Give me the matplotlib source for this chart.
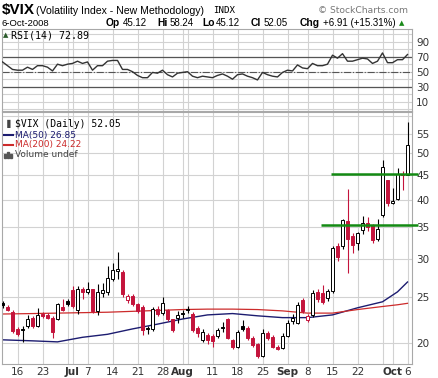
import numpy as np
import pandas as pd
import matplotlib
matplotlib.use("Agg")
import matplotlib.pyplot as plt
import matplotlib.ticker as mticker
from matplotlib.patches import Rectangle

# ---- data (VIX daily, Jun 11 - Oct 6 2008) ----
days = pd.bdate_range("2008-06-11", "2008-10-06", freq="C",
                      holidays=["2008-07-04", "2008-09-01"])

opens = [24.2, 23.8, 23.2, 21.4, 21.35, 21.7, 22.6, 21.7, 23.0, 22.9, 22.6, 22.4, 23.8, 24.5,
         25.8, 23.5, 26.0, 25.6, 25.9, 23.3, 25.4, 25.6, 27.2, 28.3, 28.2, 24.6, 25.1, 24.1,
         23.8, 21.5, 21.4, 23.6, 23.1, 23.4, 22.4, 22.6, 23.1, 23.6, 23.0, 21.5, 20.3, 20.8,
         20.7, 20.7, 21.6, 22.4, 20.3, 19.6, 21.7, 21.5, 20.5, 19.9, 18.8, 21.0, 20.6, 19.6,
         19.5, 20.7, 22.2, 22.0, 24.6, 22.3, 22.9, 25.6, 25.5, 24.9, 25.7, 32.0, 31.9, 36.1,
         33.5, 32.4, 34.5, 35.7, 35.3, 33.0, 37.1, 43.9, 39.4, 40.1, 45.3, 45.12]
highs = [24.5, 24.0, 23.4, 21.6, 21.7, 22.9, 22.8, 23.7, 23.2, 23.1, 22.8, 24.3, 24.7, 24.7,
         26.3, 26.3, 26.2, 26.8, 26.0, 26.6, 26.7, 29.0, 29.5, 31.1, 28.4, 25.3, 25.3, 24.3,
         24.0, 21.7, 23.8, 23.9, 25.0, 23.6, 22.5, 23.3, 23.4, 23.9, 23.2, 21.7, 21.4, 21.0,
         20.9, 21.5, 22.1, 22.6, 20.4, 21.3, 22.3, 21.7, 20.7, 20.0, 21.4, 21.2, 20.8, 19.8,
         21.0, 22.3, 23.0, 24.4, 24.9, 23.0, 25.8, 26.0, 26.5, 26.0, 31.9, 32.5, 36.5, 42.2,
         34.0, 34.2, 36.9, 36.7, 35.6, 36.4, 48.4, 44.0, 42.4, 46.5, 46.0, 58.24]
lows = [23.7, 23.3, 21.0, 20.7, 20.1, 21.5, 21.5, 21.6, 22.6, 22.4, 20.5, 22.3, 23.3, 23.9,
        23.7, 23.0, 24.7, 25.3, 23.1, 22.9, 25.0, 25.2, 27.0, 27.3, 25.0, 24.3, 23.9, 23.1,
        20.8, 20.9, 21.2, 22.8, 22.9, 22.2, 21.1, 22.0, 22.6, 23.1, 21.1, 20.6, 20.1, 19.9,
        19.6, 20.5, 21.1, 20.4, 19.4, 19.5, 21.2, 20.3, 19.6, 18.6, 18.7, 20.3, 19.5, 19.3,
        19.4, 20.6, 21.9, 21.9, 23.1, 22.1, 22.7, 24.4, 24.1, 24.5, 25.5, 29.7, 31.5, 28.0,
        30.9, 31.3, 33.8, 34.4, 32.5, 32.7, 36.8, 38.7, 39.2, 39.9, 41.8, 45.12]
closes = [24.0, 23.5, 21.2, 20.9, 21.25, 22.4, 21.7, 22.9, 22.8, 22.6, 21.1, 24.1, 23.5, 24.1,
          23.9, 26.0, 25.6, 25.9, 23.3, 25.6, 25.8, 27.4, 28.4, 28.6, 25.3, 25.1, 24.1, 23.3,
          21.3, 21.35, 23.6, 23.0, 24.3, 22.4, 21.3, 22.9, 23.0, 23.5, 21.3, 21.0, 21.1, 20.3,
          20.2, 21.3, 21.5, 20.5, 19.6, 21.1, 21.4, 20.5, 19.8, 18.8, 21.0, 20.5, 19.6, 19.4,
          20.7, 21.99, 22.6, 24.03, 23.3, 22.8, 25.47, 24.79, 24.39, 25.66, 31.70, 30.30, 36.22, 33.10,
          32.07, 33.96, 35.72, 35.01, 32.82, 34.74, 46.72, 39.39, 39.81, 45.26, 45.14, 52.05]

rsi = [63, 58, 53, 52, 52, 56, 53, 58, 58, 56, 51, 60, 58, 60, 61, 64, 61, 63, 52, 58, 58,
       64, 65, 65, 53, 53, 50, 45, 42, 42, 49, 48, 52, 46, 43, 48, 49, 50, 44, 42, 44, 43,
       42, 45, 47, 44, 40, 46, 47, 44, 42, 39, 49, 46, 44, 43, 49, 52, 51, 59, 55, 54, 61,
       58, 58, 60, 72, 68, 74, 64, 64, 66, 68, 67, 61, 64, 75, 62, 62, 66, 66, 72.89]

ma_dates = ["2008-06-11", "2008-06-19", "2008-06-26", "2008-07-03", "2008-07-11", "2008-07-18",
            "2008-07-25", "2008-08-01", "2008-08-08", "2008-08-15", "2008-08-22", "2008-08-29",
            "2008-09-08", "2008-09-15", "2008-09-22", "2008-09-29", "2008-10-02", "2008-10-06"]
ma50 = [20.3, 20.2, 20.1, 20.55, 20.85, 21.4, 21.9, 22.45, 22.9, 23.05, 22.8, 22.6,
        22.6, 22.9, 23.7, 24.4, 25.6, 26.85]
ma200 = [23.0, 23.05, 23.1, 23.15, 23.2, 23.3, 23.4, 23.5, 23.55, 23.55, 23.5, 23.35,
         23.1, 23.1, 23.5, 23.85, 24.05, 24.22]

tick_dates = ["2008-06-16", "2008-06-23", "2008-07-01", "2008-07-07", "2008-07-14", "2008-07-21",
              "2008-07-28", "2008-08-01", "2008-08-11", "2008-08-18", "2008-08-25", "2008-09-02",
              "2008-09-08", "2008-09-15", "2008-09-22", "2008-10-01", "2008-10-06"]
tick_labels = ["16", "23", "Jul", "7", "14", "21", "28", "Aug", "11", "18", "25", "Sep",
               "8", "15", "22", "Oct", "6"]
extra_grid_dates = ["2008-06-30", "2008-08-04", "2008-09-29"]

price_ticks = [20, 25, 30, 35, 40, 45, 50, 55]
price_grid = [20, 25, 30, 35, 40, 45, 50, 55, 60]
rsi_ticks = [90, 70, 50, 30, 10]
levels = [45.3, 35.3]
level_start = ["2008-09-12", "2008-09-10"]

# ------------------------------------------------------------------
W, H = 438, 378
RED = "#c4143c"
GRID = "#d2d2d2"
LBL = "#333333"

def loc(d):
    return days.get_loc(pd.Timestamp(d))

def box(l, t, r, b):
    return [l / W, 1 - b / H, (r - l) / W, (b - t) / H]

def fy(py):
    return 1 - py / H

x = np.arange(len(days))
o = np.array(opens); h = np.array(highs); lo = np.array(lows); c = np.array(closes)
prev = np.r_[c[0] - 0.1, c[:-1]]

fig = plt.figure(figsize=(W / 100, H / 100), dpi=100)
ax_rsi = fig.add_axes(box(2, 29, 412, 111))
ax = fig.add_axes(box(2, 112, 412, 364))

grid_x = [loc(d) for d in tick_dates + extra_grid_dates]
for a in (ax, ax_rsi):
    a.set_xlim(-0.1, 81.9)
    for gx in grid_x:
        a.axvline(gx, color=GRID, lw=0.8, zorder=0)
    for s in a.spines.values():
        s.set_color("#a8a8a8")
        s.set_linewidth(0.8)
    a.tick_params(length=0, labelsize=7.5, colors=LBL, pad=3)
    a.yaxis.tick_right()

# ---- price panel ----
ax.set_yscale("log")
ax.set_ylim(18.06, 61.1)
for v in price_grid:
    ax.axhline(v, color=GRID, lw=0.8, zorder=0)
ax.yaxis.set_major_locator(mticker.FixedLocator(price_ticks))
ax.yaxis.set_major_formatter(mticker.FixedFormatter([str(v) for v in price_ticks]))
ax.yaxis.set_minor_locator(mticker.NullLocator())
for t in ax.get_yticklabels():
    t.set_horizontalalignment("left")

ax.plot([loc(d) for d in ma_dates], ma50, color="#1c1c70", lw=1.0, zorder=2)
ax.plot([loc(d) for d in ma_dates], ma200, color="#cc2b2b", lw=0.9, zorder=2)

for i in range(len(x)):
    col = RED if c[i] < prev[i] else "black"
    filled = c[i] < o[i]
    ax.vlines(x[i], lo[i], h[i], color=col, lw=0.8, zorder=3)
    bot = min(o[i], c[i])
    hgt = max(abs(c[i] - o[i]), bot * 0.004)
    ax.bar(x[i], hgt, bottom=bot, width=0.74, color=col if filled else "white",
           edgecolor=col, linewidth=0.7, zorder=4)

for lv, st in zip(levels, level_start):
    ax.plot([loc(st) + 0.6, 83.1], [lv, lv], color="#138a13", lw=1.8,
            zorder=5, clip_on=False, solid_capstyle="butt")

ax.set_xticks([loc(d) for d in tick_dates])
ax.set_xticklabels(tick_labels)
for t in ax.get_xticklabels():
    if t.get_text() in ("Jul", "Aug", "Sep", "Oct"):
        t.set_fontweight("bold")
ax.tick_params(axis="x", pad=2)

# legend inside price panel
fig.text(4 / W, fy(124), "\u2590", fontsize=6, color="#444444", va="center")
fig.text(15 / W, fy(124), "$VIX (Daily) 52.05", fontsize=7, family="DejaVu Sans Mono",
         color="black", va="center")
fig.lines.append(plt.Line2D([4 / W, 13 / W], [fy(135)] * 2, color="#1c1c70", lw=1.5,
                            transform=fig.transFigure))
fig.text(15 / W, fy(135), "MA(50) 26.85", fontsize=6.5, color="#1c1c70", va="center")
fig.lines.append(plt.Line2D([4 / W, 13 / W], [fy(145)] * 2, color="#cc2b2b", lw=1.5,
                            transform=fig.transFigure))
fig.text(15 / W, fy(145), "MA(200) 24.22", fontsize=6.5, color="#cc2b2b", va="center")
for bx, bh in zip([4, 7, 10], [4, 6, 4]):
    fig.add_artist(Rectangle((bx / W, fy(158)), 2 / W, bh / H, color="#555555",
                             transform=fig.transFigure))
fig.text(15 / W, fy(155), "Volume undef", fontsize=6.5, color="#444444", va="center")

# ---- RSI panel ----
ax_rsi.set_ylim(-2.4, 106.9)
for v in range(0, 101, 10):
    ax_rsi.axhline(v, color=GRID, lw=0.8, zorder=0)
ax_rsi.axhline(70, color="#555555", lw=0.9, zorder=1)
ax_rsi.axhline(30, color="#555555", lw=0.9, zorder=1)
ax_rsi.axhline(50, color="#555555", lw=0.8, ls="-.", zorder=1)
ax_rsi.plot(x, rsi, color="#333333", lw=1.0, zorder=3)
ax_rsi.set_yticks(rsi_ticks)
ax_rsi.set_xticks([])
for t in ax_rsi.get_yticklabels():
    t.set_horizontalalignment("left")
fig.text(3 / W, fy(35), "\u25B2", fontsize=5, color="#2a5a2a", va="center")
fig.text(11 / W, fy(35), "RSI(14) 72.89", fontsize=7.2, family="DejaVu Sans Mono",
         color="black", va="center")

# ---- header ----
hf = "Liberation Sans"
fig.text(2 / W, fy(10), "$VIX", fontsize=11, fontweight="bold", family=hf, va="center")
fig.text(36 / W, fy(10.5), "(Volatility Index - New Methodology)", fontsize=7.6,
         family=hf, va="center")
fig.text(213 / W, fy(10.5), "INDX", fontsize=6.6, family="DejaVu Sans Mono", va="center")
fig.text(408 / W, fy(10.5), "\u00a9 StockCharts.com", fontsize=6.6, color="#777777",
         ha="right", va="center")
fig.text(1 / W, fy(23), "6-Oct-2008", fontsize=6.8, family=hf, va="center")
parts = [(106, "Op", True), (123, "45.12", False), (157, "Hi", True), (170, "58.24", False),
         (202, "Lo", True), (216, "45.12", False), (251, "Cl", True), (264, "52.05", False),
         (300, "Chg", True), (323, "+6.91 (+15.31%)", False)]
for px, s, b in parts:
    fig.text(px / W, fy(23), s, fontsize=7.4 if b else 7, family=hf,
             fontweight="bold" if b else "normal", va="center")
fig.text(399 / W, fy(23), "\u25B2", fontsize=5, color="#1a8a1a", va="center")

fig.savefig("out.png", dpi=100)
